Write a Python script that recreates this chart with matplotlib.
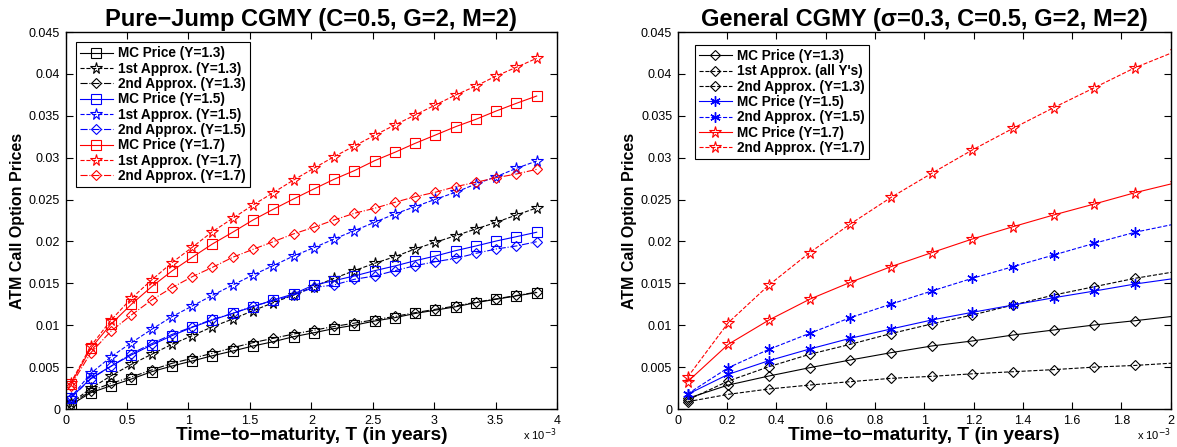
import matplotlib
matplotlib.use("Agg")
import matplotlib.pyplot as plt
from matplotlib.ticker import FuncFormatter, MultipleLocator

plt.rcParams['font.family'] = ['Liberation Sans', 'DejaVu Sans']

# time-to-maturity grid (years)
T = [0.040e-3, 0.205e-3, 0.370e-3, 0.535e-3, 0.700e-3, 0.865e-3,
     1.030e-3, 1.195e-3, 1.360e-3, 1.525e-3, 1.690e-3, 1.855e-3,
     2.020e-3, 2.185e-3, 2.350e-3, 2.515e-3, 2.680e-3, 2.845e-3,
     3.010e-3, 3.175e-3, 3.340e-3, 3.505e-3, 3.670e-3, 3.835e-3]

# --- left panel: pure-jump CGMY ---
mc_13 = [0.00048, 0.00195, 0.00278, 0.00358, 0.00445, 0.00513, 0.00573, 0.00636,
         0.00692, 0.00752, 0.00803, 0.00863, 0.00910, 0.00960, 0.01000, 0.01050,
         0.01090, 0.01140, 0.01180, 0.01220, 0.01270, 0.01310, 0.01350, 0.01390]
a1_13 = [0.00068, 0.00247, 0.00397, 0.00533, 0.00653, 0.00772, 0.00875, 0.00982,
         0.01074, 0.01173, 0.01269, 0.01360, 0.01460, 0.01560, 0.01651, 0.01739,
         0.01818, 0.01910, 0.01990, 0.02069, 0.02149, 0.02228, 0.02316, 0.02400]
a2_13 = [0.00060, 0.00215, 0.00307, 0.00382, 0.00466, 0.00545, 0.00605, 0.00665,
         0.00732, 0.00792, 0.00844, 0.00895, 0.00940, 0.00985, 0.01025, 0.01065,
         0.01105, 0.01150, 0.01190, 0.01230, 0.01275, 0.01315, 0.01355, 0.01395]
mc_15 = [0.00135, 0.00366, 0.00513, 0.00645, 0.00764, 0.00875, 0.00975, 0.01062,
         0.01142, 0.01221, 0.01301, 0.01373, 0.01480, 0.01532, 0.01588, 0.01651,
         0.01707, 0.01770, 0.01826, 0.01890, 0.01946, 0.02005, 0.02057, 0.02110]
a1_15 = [0.00135, 0.00426, 0.00624, 0.00791, 0.00951, 0.01102, 0.01229, 0.01357,
         0.01480, 0.01600, 0.01711, 0.01826, 0.01925, 0.02029, 0.02128, 0.02228,
         0.02328, 0.02415, 0.02503, 0.02587, 0.02686, 0.02773, 0.02873, 0.02960]
a2_15 = [0.00130, 0.00360, 0.00510, 0.00660, 0.00780, 0.00890, 0.00980, 0.01070,
         0.01140, 0.01230, 0.01290, 0.01360, 0.01451, 0.01480, 0.01548, 0.01588,
         0.01651, 0.01711, 0.01758, 0.01798, 0.01858, 0.01910, 0.01946, 0.01997]
mc_17 = [0.00295, 0.00725, 0.01015, 0.01250, 0.01460, 0.01647, 0.01811, 0.01970,
         0.02110, 0.02256, 0.02384, 0.02507, 0.02626, 0.02742, 0.02845, 0.02964,
         0.03064, 0.03171, 0.03270, 0.03370, 0.03458, 0.03557, 0.03649, 0.03736]
a1_17 = [0.00307, 0.00752, 0.01062, 0.01321, 0.01540, 0.01746, 0.01930, 0.02117,
         0.02276, 0.02435, 0.02582, 0.02733, 0.02873, 0.03012, 0.03139, 0.03267,
         0.03390, 0.03509, 0.03629, 0.03748, 0.03855, 0.03975, 0.04079, 0.04186]
a2_17 = [0.00275, 0.00672, 0.00931, 0.01122, 0.01301, 0.01448, 0.01579, 0.01691,
         0.01811, 0.01906, 0.01997, 0.02090, 0.02169, 0.02256, 0.02336, 0.02396,
         0.02467, 0.02534, 0.02587, 0.02654, 0.02706, 0.02761, 0.02805, 0.02861]

# --- right panel: general CGMY (first 13 maturities) ---
T_r = T[:13]
g_mc_13 = [0.00127, 0.00286, 0.00394, 0.00493, 0.00585, 0.00672, 0.00752,
           0.00812, 0.00883, 0.00943, 0.01003, 0.01054, 0.01110]
g_a1_all = [0.00087, 0.00175, 0.00239, 0.00286, 0.00326, 0.00366, 0.00390,
            0.00420, 0.00445, 0.00470, 0.00500, 0.00520, 0.00550]
g_a2_13 = [0.00107, 0.00334, 0.00505, 0.00653, 0.00772, 0.00900, 0.01015,
           0.01122, 0.01241, 0.01360, 0.01460, 0.01560, 0.01640]
g_mc_15 = [0.00175, 0.00414, 0.00577, 0.00716, 0.00844, 0.00955, 0.01062,
           0.01154, 0.01241, 0.01328, 0.01408, 0.01492, 0.01560]
g_a2_15 = [0.00180, 0.00493, 0.00712, 0.00903, 0.01090, 0.01252, 0.01408,
           0.01560, 0.01699, 0.01838, 0.01978, 0.02110, 0.02210]
g_mc_17 = [0.00326, 0.00772, 0.01062, 0.01310, 0.01512, 0.01699, 0.01866,
           0.02029, 0.02176, 0.02316, 0.02447, 0.02582, 0.02700]
g_a2_17 = [0.00380, 0.01030, 0.01480, 0.01866, 0.02208, 0.02525, 0.02813,
           0.03092, 0.03350, 0.03597, 0.03835, 0.04074, 0.04270]

fig = plt.figure(figsize=(11.77, 4.47), dpi=100)
ax1 = fig.add_axes([0.0558, 0.085, 0.4174, 0.8434])
ax2 = fig.add_axes([0.5758, 0.085, 0.4189, 0.8434])

lw = 0.8
star = dict(marker='*', mfc='none', ms=8.5, mew=0.8)
sq = dict(marker='s', mfc='none', ms=6.5, mew=0.8)
dia = dict(marker='D', mfc='none', ms=5.5, mew=0.8)
ast = dict(marker=(6, 2, 0), ms=7.5, mew=1.0)

ax1.plot(T, mc_13, 'k-', lw=lw, label='MC Price (Y=1.3)', **sq)
ax1.plot(T, a1_13, 'k--', lw=lw, label='1st Approx. (Y=1.3)', **star)
ax1.plot(T, a2_13, 'k-.', lw=lw, label='2nd Approx. (Y=1.3)', **dia)
ax1.plot(T, mc_15, 'b-', lw=lw, label='MC Price (Y=1.5)', **sq)
ax1.plot(T, a1_15, 'b--', lw=lw, label='1st Approx. (Y=1.5)', **star)
ax1.plot(T, a2_15, 'b-.', lw=lw, label='2nd Approx. (Y=1.5)', **dia)
ax1.plot(T, mc_17, 'r-', lw=lw, label='MC Price (Y=1.7)', **sq)
ax1.plot(T, a1_17, 'r--', lw=lw, label='1st Approx. (Y=1.7)', **star)
ax1.plot(T, a2_17, 'r-.', lw=lw, label='2nd Approx. (Y=1.7)', **dia)

ax2.plot(T_r, g_mc_13, 'k-', lw=lw, label='MC Price (Y=1.3)', **dia)
ax2.plot(T_r, g_a1_all, 'k--', lw=lw, label="1st Approx. (all Y's)", **dia)
ax2.plot(T_r, g_a2_13, 'k--', lw=lw, label='2nd Approx. (Y=1.3)', **dia)
ax2.plot(T_r, g_mc_15, 'b-', lw=lw, label='MC Price (Y=1.5)', **ast)
ax2.plot(T_r, g_a2_15, 'b--', lw=lw, label='2nd Approx. (Y=1.5)', **ast)
ax2.plot(T_r, g_mc_17, 'r-', lw=lw, label='MC Price (Y=1.7)', **star)
ax2.plot(T_r, g_a2_17, 'r--', lw=lw, label='2nd Approx. (Y=1.7)', **star)

yfmt = FuncFormatter(lambda v, p: '%g' % round(v, 6))
xfmt = FuncFormatter(lambda v, p: '%g' % round(v * 1e3, 6))

for ax, xmax, xstep in [(ax1, 4e-3, 0.5e-3), (ax2, 2e-3, 0.2e-3)]:
    ax.set_xlim(0, xmax)
    ax.set_ylim(0, 0.045)
    ax.xaxis.set_major_locator(MultipleLocator(xstep))
    ax.yaxis.set_major_locator(MultipleLocator(0.005))
    ax.xaxis.set_major_formatter(xfmt)
    ax.yaxis.set_major_formatter(yfmt)
    ax.tick_params(direction='in', top=True, right=True, labelsize=9,
                   length=5, width=0.8, pad=4)
    for s in ax.spines.values():
        s.set_linewidth(1.0)
    ax.set_xlabel('Time\u2212to\u2212maturity, T (in years)', fontsize=13.8,
                  fontweight='bold', labelpad=0)
    ax.set_ylabel('ATM Call Option Prices', fontsize=11.5, fontweight='bold',
                  labelpad=3)
    ax.text(1.0, -0.068, 'x 10$^{-3}$', transform=ax.transAxes, fontsize=8,
            ha='right', va='center')

ax1.set_title('Pure\u2212Jump CGMY (C=0.5, G=2, M=2)', fontsize=17,
              fontweight='bold', pad=4)
ax2.set_title('General CGMY (\u03c3=0.3, C=0.5, G=2, M=2)', fontsize=17,
              fontweight='bold', pad=4)

leg_kw = dict(prop={'weight': 'bold', 'size': 9.8}, handlelength=2.4,
              borderpad=0.3, labelspacing=0.1, handletextpad=0.4,
              borderaxespad=0, fancybox=False, edgecolor='black',
              framealpha=1)
l1 = ax1.legend(loc='upper left', bbox_to_anchor=(0.021, 0.973), **leg_kw)
l2 = ax2.legend(loc='upper left', bbox_to_anchor=(0.035, 0.966), **leg_kw)
for l in (l1, l2):
    l.get_frame().set_linewidth(0.8)

fig.savefig('out.png', dpi=100)
